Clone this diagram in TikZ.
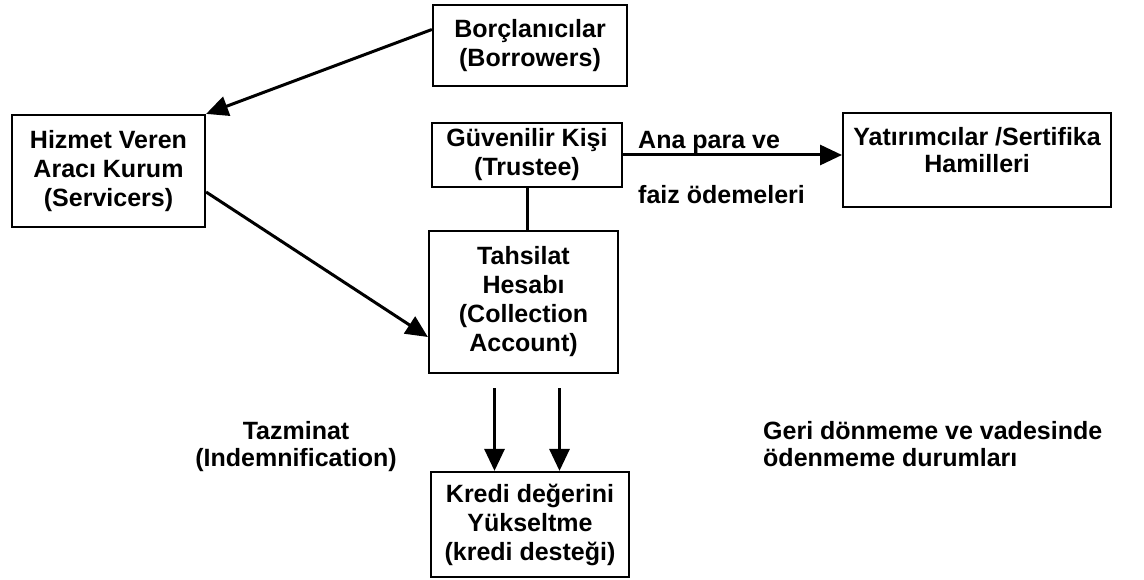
\documentclass[tikz,border=0pt]{standalone}
\usepackage{fontspec}
\setmainfont{Liberation Sans}
\usetikzlibrary{arrows.meta}
\begin{document}
\begin{tikzpicture}[x=1pt,y=-1pt,
  box/.style={draw,line width=2.2pt,rectangle,inner sep=0pt,align=center,font=\fontsize{25}{29}\selectfont\bfseries},
  lbl/.style={inner sep=0pt,font=\fontsize{25}{27}\selectfont\bfseries},
  arr/.style={line width=3pt,-{Triangle[length=22pt,width=20pt]}},
  ln/.style={line width=3pt}]
\useasboundingbox (0,0) rectangle (1144,580);
\node[box,minimum width=194pt,minimum height=81pt] (borrowers) at (530,45.5) {Borçlanıcılar\\(Borrowers)};
\node[box,minimum width=193pt,minimum height=112pt] (servicers) at (108.5,171) {Hizmet Veren\\Aracı Kurum\\(Servicers)};
\node[box,minimum width=190pt,minimum height=64pt] (trustee) at (527,155) {Güvenilir Kişi\\(Trustee)};
\node[box,minimum width=268pt,minimum height=94pt,anchor=north west] (investors) at (842,112) {};
\node[lbl,align=center,anchor=north] (invtext) at ([yshift=-15pt]investors.north) {Yatırımcılar /Sertifika\\Hamilleri};
\node[box,minimum width=189pt,minimum height=142pt] (collection) at (523.5,302) {Tahsilat\\Hesabı\\(Collection\\Account)};
\node[box,minimum width=198pt,minimum height=105pt] (kredi) at (530,524.5) {Kredi değerini\\Yükseltme\\(kredi desteği)};
\draw[arr] ([yshift=16pt]borrowers.west) -- (servicers.north east);
\draw[arr] ([yshift=-21pt]servicers.east) -- ([yshift=-35pt]collection.west);
\draw[arr] (trustee.east) -- (trustee.east -| investors.west);
\draw[ln] (trustee.south) -- (trustee.south |- collection.north);
\coordinate (a1) at ([xshift=-29pt,yshift=-14pt]collection.south);
\coordinate (a2) at ([xshift=36pt,yshift=-14pt]collection.south);
\draw[arr] (a1) -- (a1 |- kredi.north);
\draw[arr] (a2) -- (a2 |- kredi.north);
\node[lbl,anchor=west] (ana) at (638,142) {Ana para ve};
\node[lbl,anchor=west] (faiz) at (638,195) {faiz ödemeleri};
\node[lbl,align=center] (taz) at (296,447) {Tazminat\\(Indemnification)};
\node[lbl,align=left,anchor=west] (geri) at (763,444) {Geri dönmeme ve vadesinde\\ödenmeme durumları};
\end{tikzpicture}
\end{document}
